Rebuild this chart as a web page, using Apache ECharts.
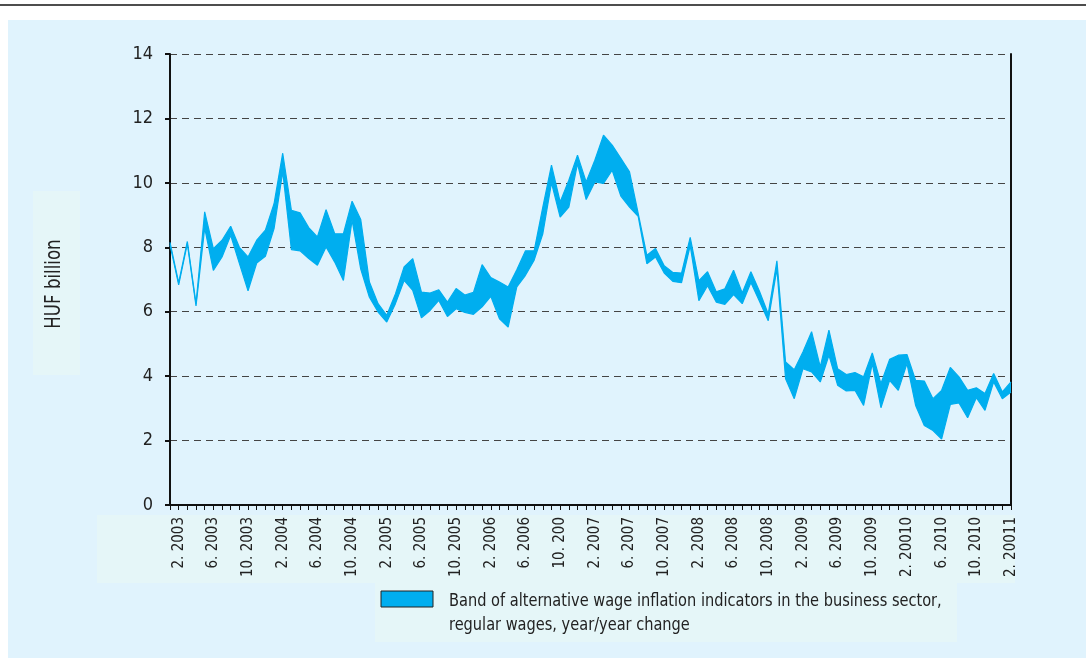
<!DOCTYPE html>
<html>
<head>
    <meta charset="utf-8">
    <title>Wage inflation band</title>
    <style>
        html, body { margin: 0; padding: 0; background: #fff; }
    </style>
</head>
<body>
    <div id="main" style="width:1086px;height:660px"></div>
    <script src="https://cdn.jsdelivr.net/npm/echarts@6/dist/echarts.min.js"></script>
    <script type="text/javascript">
    // monthly points, Jan 2003 .. Feb 2011
    var startYear = 2003;
    var pointCount = 98;

    // labels every 4th month starting with Feb 2003 (typos kept as in the original)
    var tickLabels = ['2. 2003', '6. 2003', '10. 2003', '2. 2004', '6. 2004', '10. 2004',
        '2. 2005', '6. 2005', '10. 2005', '2. 2006', '6. 2006', '10. 200',
        '2. 2007', '6. 2007', '10. 2007', '2. 2008', '6. 2008', '10. 2008',
        '2. 2009', '6. 2009', '10. 2009', '2. 20010', '6. 2010', '10. 2010', '2. 20011'];

    var yTicks = [0, 2, 4, 6, 8, 10, 12, 14];

    // upper and lower edges of the band (HUF billion)
    var upper = [8.15, 6.9, 8.18, 6.25, 9.1, 7.96, 8.22, 8.65, 8.0, 7.7,
        8.22, 8.53, 9.35, 10.92, 9.15, 9.07, 8.61, 8.32, 9.17, 8.42,
        8.42, 9.43, 8.86, 6.92, 6.25, 5.89, 6.55, 7.39, 7.65, 6.61,
        6.58, 6.68, 6.3, 6.72, 6.52, 6.6, 7.46, 7.06, 6.92, 6.77,
        7.3, 7.89, 7.89, 9.25, 10.55, 9.41, 10.08, 10.86, 10.03, 10.7,
        11.48, 11.17, 10.76, 10.34, 9.05, 7.75, 7.96, 7.43, 7.22, 7.2,
        8.31, 6.96, 7.24, 6.62, 6.71, 7.29, 6.58, 7.24, 6.63, 5.93,
        7.58, 4.44, 4.2, 4.75, 5.38, 4.29, 5.43, 4.23, 4.05, 4.11,
        3.98, 4.72, 3.77, 4.52, 4.65, 4.67, 3.87, 3.85, 3.3, 3.56,
        4.27, 3.98, 3.56, 3.64, 3.46, 4.08, 3.51, 3.82];

    var lower = [8.08, 6.83, 8.11, 6.18, 8.6, 7.28, 7.7, 8.37, 7.5, 6.65,
        7.51, 7.72, 8.58, 10.35, 7.93, 7.89, 7.65, 7.44, 8.01, 7.54,
        6.97, 8.84, 7.32, 6.45, 5.99, 5.68, 6.25, 6.97, 6.66, 5.81,
        6.04, 6.35, 5.85, 6.09, 5.98, 5.92, 6.15, 6.48, 5.78, 5.52,
        6.77, 7.13, 7.6, 8.42, 10.0, 8.94, 9.25, 10.6, 9.48, 10.03,
        9.98, 10.39, 9.59, 9.25, 8.96, 7.49, 7.7, 7.2, 6.94, 6.9,
        8.05, 6.34, 6.81, 6.3, 6.23, 6.53, 6.25, 6.91, 6.32, 5.72,
        7.33, 3.92, 3.3, 4.23, 4.13, 3.82, 4.65, 3.72, 3.54, 3.56,
        3.09, 4.39, 3.02, 3.87, 3.56, 4.39, 3.09, 2.47, 2.31, 2.05,
        3.12, 3.17, 2.71, 3.33, 2.94, 3.82, 3.3, 3.51];

    var bandName = 'Band of alternative wage inflation indicators in the business sector,\nregular wages, year/year change';
    var bandColor = '#00AEEF';
    var narrow = "'Liberation Sans Narrow', 'DejaVu Sans Condensed', 'Arial Narrow', sans-serif";

    var months = [];
    for (var i = 0; i < pointCount; i++) {
        months.push((startYear + Math.floor(i / 12)) + '-' + (i % 12 + 1));
    }
    var width = [];
    for (var j = 0; j < upper.length; j++) {
        width.push(+(upper[j] - lower[j]).toFixed(3));
    }

    var myChart = echarts.init(document.getElementById('main'));
    var option = {
        backgroundColor: '#fff',
        animation: false,
        graphic: [
            { type: 'rect', z: -10, shape: { x: 0, y: 4, width: 1086, height: 2 }, style: { fill: '#4d4d4d' } },
            { type: 'rect', z: -10, shape: { x: 8, y: 20, width: 1078, height: 638 }, style: { fill: '#E0F3FD' } },
            { type: 'rect', z: -9, shape: { x: 33, y: 191, width: 47, height: 184 }, style: { fill: '#E5F6F8' } },
            { type: 'rect', z: -9, shape: { x: 97, y: 515, width: 918, height: 68 }, style: { fill: '#E5F6F8' } },
            { type: 'rect', z: -9, shape: { x: 375, y: 583, width: 582, height: 59 }, style: { fill: '#E5F6F8' } },
            {
                type: 'text', x: 55, y: 284, rotation: Math.PI / 2, scaleX: 0.88,
                style: { text: 'HUF billion', font: '21px ' + narrow, fill: '#222', textAlign: 'center', textVerticalAlign: 'middle' }
            },
            {
                type: 'rect', shape: { x: 381, y: 591, width: 52, height: 16 },
                style: { fill: bandColor, stroke: '#222', lineWidth: 1 }
            },
            {
                type: 'text', x: 449, y: 589, scaleX: 0.9,
                style: { text: bandName, font: '18px ' + narrow, lineHeight: 24, fill: '#222' }
            }
        ],
        grid: {
            left: 170,
            right: 75,
            top: 54,
            bottom: 155
        },
        xAxis: {
            type: 'category',
            boundaryGap: false,
            data: months,
            axisLine: { lineStyle: { color: '#111', width: 2 } },
            axisTick: { interval: 0, length: 5, lineStyle: { color: '#111', width: 1 } },
            axisLabel: {
                interval: function (idx) { return idx % 4 === 1; },
                formatter: function (val, idx) { return tickLabels[(idx - 1) / 4]; },
                rotate: 90,
                margin: 12,
                fontSize: 15,
                fontFamily: narrow,
                color: '#222'
            },
            splitLine: { show: false }
        },
        yAxis: [
            {
                type: 'value',
                min: yTicks[0],
                max: yTicks[yTicks.length - 1],
                interval: 2,
                axisLine: { show: true, lineStyle: { color: '#111', width: 2 } },
                axisTick: { show: true, length: 5, lineStyle: { color: '#111', width: 2 } },
                axisLabel: { fontSize: 18, fontFamily: narrow, color: '#222', margin: 17 },
                splitLine: { lineStyle: { type: [7, 5], color: '#444', width: 1 } }
            },
            {
                type: 'value',
                position: 'right',
                min: yTicks[0],
                max: yTicks[yTicks.length - 1],
                interval: 2,
                axisLine: { show: true, lineStyle: { color: '#111', width: 2 } },
                axisTick: { show: false },
                axisLabel: { show: false },
                splitLine: { show: false }
            }
        ],
        series: [
            {
                name: 'lower',
                type: 'line',
                stack: 'band',
                data: lower,
                symbol: 'none',
                lineStyle: { color: bandColor, width: 1.2 },
                z: 3
            },
            {
                name: bandName,
                type: 'line',
                stack: 'band',
                data: width,
                symbol: 'none',
                lineStyle: { color: bandColor, width: 1.2 },
                areaStyle: { color: bandColor, opacity: 1 },
                z: 3
            }
        ]
    };
    myChart.setOption(option);
    </script>
</body>
</html>
